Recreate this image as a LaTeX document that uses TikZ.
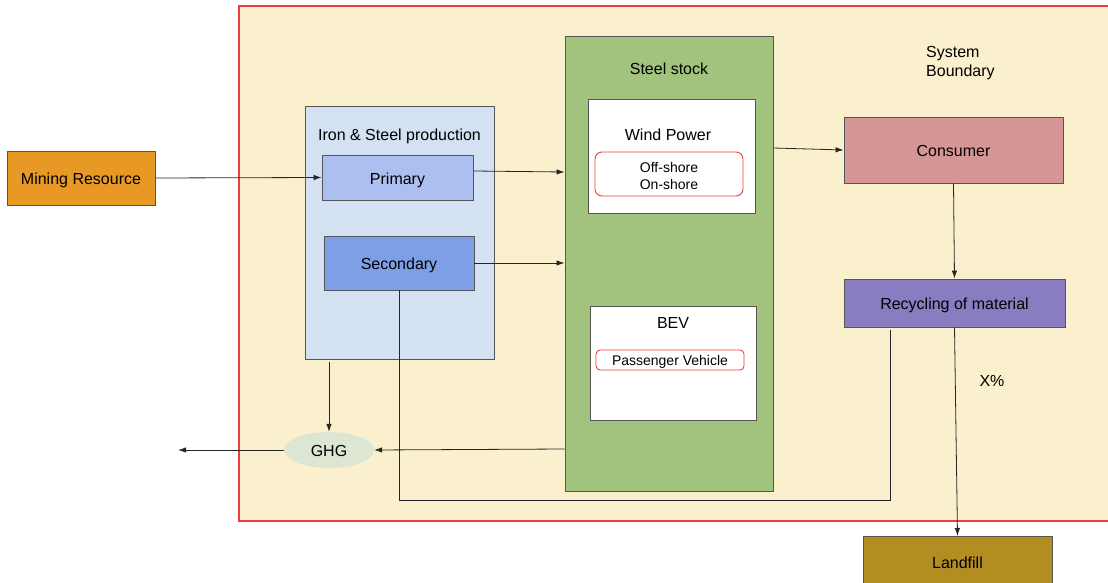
\documentclass[tikz,border=0pt]{standalone}
\usepackage{fontspec}
\setmainfont{Liberation Sans}
\usetikzlibrary{arrows.meta,shapes.geometric}
\definecolor{bfill}{RGB}{250,240,205}
\definecolor{bred}{RGB}{236,62,62}
\definecolor{orangef}{RGB}{232,152,37}
\definecolor{lblue}{RGB}{212,225,242}
\definecolor{primf}{RGB}{171,192,240}
\definecolor{secf}{RGB}{126,159,230}
\definecolor{greenf}{RGB}{161,195,126}
\definecolor{consf}{RGB}{214,150,150}
\definecolor{recf}{RGB}{137,124,193}
\definecolor{landf}{RGB}{178,141,34}
\definecolor{ghgf}{RGB}{220,230,210}
\definecolor{edge}{RGB}{85,85,85}
\tikzset{
  bigfont/.style={font=\fontsize{16}{19}\selectfont},
  bigtext/.style={bigfont, text height=17.5pt, text depth=4pt},
  box/.style={draw=edge, line width=0.9pt, inner sep=0pt, bigtext},
  redbox/.style={draw=bred, line width=0.9pt, rounded corners=7pt, fill=white, inner sep=0pt, align=center, font=\fontsize{14}{17}\selectfont},
  lbl/.style={inner sep=0pt, bigtext},
  flow/.style={draw=black!85, line width=0.8pt, -{Latex[length=8pt,width=5.5pt]}},
  plain/.style={draw=black!85, line width=0.8pt}
}
\begin{document}
\begin{tikzpicture}[x=1pt,y=-1pt]
\useasboundingbox (0,0) rectangle (1108,583);
% system boundary
\fill[bfill] (239,6) rectangle (1112,521);
\draw[draw=bred, line width=1.2pt] (1112,6) -- (239,6) -- (239,521) -- (1112,521);
\node[inner sep=0pt, bigfont, anchor=north west, align=left] (sysb) at (926,46) {System\\Boundary};

% nodes
\node[box, fill=orangef, minimum width=148, minimum height=54] (mining) at (81,178) {Mining Resource};
\node[box, fill=lblue, minimum width=189, minimum height=253] (iron) at (399.5,232.5) {};
\node[lbl] (irontitle) at (399.5,134) {Iron \& Steel production};
\node[box, fill=primf, minimum width=151, minimum height=45] (primary) at (397.5,177.5) {Primary};
\node[box, fill=secf, minimum width=150, minimum height=54] (secondary) at (399,263) {Secondary};

\node[box, fill=greenf, minimum width=208, minimum height=455] (stock) at (669,263.5) {};
\node[lbl] (stocktitle) at (669,68) {Steel stock};
\node[box, fill=white, minimum width=167, minimum height=114] (wind) at (671.5,156) {};
\node[lbl] (windtitle) at (668,134) {Wind Power};
\node[redbox, minimum width=148, minimum height=44] (shore) at (669,174) {};
\node[inner sep=0pt, align=center, font=\fontsize{14}{17}\selectfont] (shoretext) at (669,176) {Off-shore\\On-shore};
\node[box, fill=white, minimum width=166, minimum height=114] (bev) at (673,363) {};
\node[lbl] (bevtitle) at (673,322) {BEV};
\node[redbox, rounded corners=4pt, minimum width=148, minimum height=20, text height=13.5pt, text depth=3.5pt] (pv) at (670,360) {Passenger Vehicle};

\node[box, fill=consf, minimum width=219, minimum height=66] (consumer) at (953.5,150) {Consumer};
\node[box, fill=recf, minimum width=221, minimum height=48] (recycle) at (954.5,303) {Recycling of material};
\node[box, fill=landf, minimum width=189, minimum height=60, anchor=north] (landfill) at (957.5,536) {};
\node[lbl] (landtitle) at (957.5,562) {Landfill};
\node[ellipse, fill=ghgf, minimum width=90, minimum height=36, inner sep=0pt, bigtext] (ghg) at (329,450) {GHG};
\node[lbl] (xpct) at (992,380) {X\%};

\coordinate (ghgout) at (178,450);
\coordinate (ironbot) at (329,362);
\coordinate (corner1) at (399,500);
\coordinate (corner2) at (890,500);
\coordinate (recbot) at (890,330);

% connectors
\draw[flow] (mining.east) -- (primary.west);
\draw[flow] (primary.east |- 0,171) -- (stock.west |- 0,172);
\draw[flow] (secondary.east) -- (stock.west |- secondary.east);
\draw[flow] (stock.east |- 0,148) -- (consumer.west);
\draw[flow] (consumer.south) -- (recycle.north);
\draw[flow] (recycle.south) -- (landfill.north);
\draw[flow] (ironbot) -- (ghg.north);
\draw[flow] (stock.west |- 0,449) -- (ghg.east);
\draw[flow] (ghg.west) -- (ghgout);
\draw[plain] (secondary.south) -- (corner1) -- (corner2) -- (recbot);
\end{tikzpicture}
\end{document}
